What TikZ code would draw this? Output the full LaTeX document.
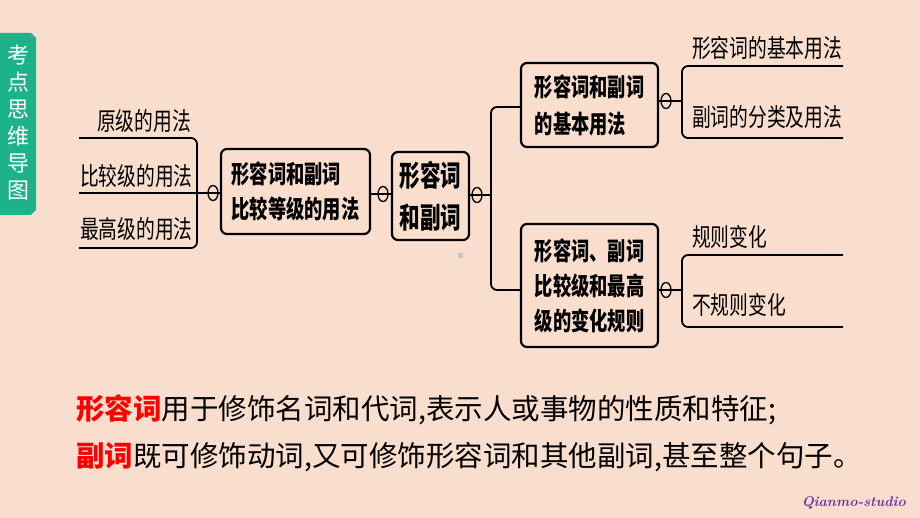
\documentclass[tikz,border=0pt]{standalone}
\usepackage{fontspec}
\usetikzlibrary{shapes.geometric}
\newfontfamily\cjk{Noto Sans CJK SC}
\newfontfamily\cjkn[FakeStretch=0.75]{Noto Sans CJK SC}
\newfontfamily\cjkb[FakeStretch=0.73]{Noto Sans CJK SC}
\newfontfamily\cjkw[FakeStretch=0.71]{Noto Sans CJK SC}
\definecolor{bg}{RGB}{249,222,205}
\definecolor{tabgreen}{RGB}{30,178,138}
\definecolor{wmcol}{RGB}{112,48,160}
\begin{document}
\begin{tikzpicture}[x=1pt,y=-1pt,
  box/.style={draw, line width=2.2pt, rounded corners=6pt, inner sep=0pt, align=left,
    font=\cjkb\bfseries\fontsize{25}{35}\selectfont},
  leaf/.style={anchor=west, inner sep=0pt, font=\cjkn\fontsize{25}{28}\selectfont},
  conn/.style={line width=1.8pt, rounded corners=6pt},
  knot/.style={draw, ellipse, line width=1.3pt, minimum width=10pt, minimum height=15pt, inner sep=0pt},
  body/.style={anchor=west, inner sep=0pt, font=\cjk\fontsize{28.5}{34}\selectfont}
  ]
\fill[bg] (0,0) rectangle (920,518);
\useasboundingbox (0,0) rectangle (920,518);

% side tab
\fill[tabgreen] (0,33) -- (31,33) -- (36,38) -- (36,210) -- (31,215) -- (0,215) -- cycle;
\node[text=white, font=\cjk\fontsize{22}{27}\selectfont, align=center, inner sep=0pt] (tab) at (18,123) {考\\点\\思\\维\\导\\图};

% boxes
\node[box, minimum width=149pt, minimum height=85pt] (b1) at (295.5,191.5) {形容词和副词\\比较等级的用法};
\node[box, font=\cjkw\bfseries\fontsize{29}{42}\selectfont, minimum width=77pt, minimum height=88pt] (b2) at (430.5,196) {形容词\\和副词};
\node[box, font=\cjkb\bfseries\fontsize{25}{37}\selectfont, minimum width=137pt, minimum height=84pt] (b3) at (589.5,105) {形容词和副词\\的基本用法};
\node[box, minimum width=137pt, minimum height=123pt] (b4) at (589.5,285.5) {形容词、副词\\比较级和最高\\级的变化规则};

% leaves
\node[leaf] (l1) at (97,121) {原级的用法};
\node[leaf] (l2) at (80,176) {比较级的用法};
\node[leaf] (l3) at (80,229) {最高级的用法};
\node[leaf] (r1) at (692,48) {形容词的基本用法};
\node[leaf] (r2) at (692,117) {副词的分类及用法};
\node[leaf] (r3) at (692,237) {规则变化};
\node[leaf] (r4) at (692,305) {不规则变化};

% left bracket
\coordinate (lb) at (197,193);
\draw[conn] (79,138) -- (197,138) -- (197,248) -- (79,248);
\draw[conn] (79,193) -- (b1.west |- lb);
\node[knot] (k1) at (213,193) {};

% b1 -> b2
\coordinate (m1) at (0,194);
\draw[conn] (b1.east |- m1) -- (b2.west |- m1);
\node[knot] (k2) at (383,194) {};

% b2 -> b3, b4
\coordinate (m2) at (491,195);
\draw[conn] (b2.east |- m2) -- (m2);
\draw[conn] (b3.west |- 0,107) -- (491,107) -- (491,290) -- (b4.west |- 0,290);
\node[knot] (k3) at (477,195) {};

% right brackets
\draw[conn] (843,66) -- (682,66) -- (682,138) -- (843,138);
\draw[conn] (b3.east |- 0,101) -- (682,101);
\node[knot] (k4) at (666,101) {};
\draw[conn] (843,255) -- (682,255) -- (682,327) -- (843,327);
\draw[conn] (b4.east |- 0,290) -- (682,290);
\node[knot] (k5) at (666,290) {};

% small artifact
\fill[gray!45] (457.5,253.5) rectangle (462.5,258.5);

% body text
\node[body] (t1) at (76,410) {\textcolor{red}{\bfseries 形容词}用于修饰名词和代词,表示人或事物的性质和特征;};
\node[body] (t2) at (76,457) {\textcolor{red}{\bfseries 副词}既可修饰动词,又可修饰形容词和其他副词,甚至整个句子。};

\node[anchor=east, inner sep=0pt, text=wmcol, font=\bfseries\itshape\fontsize{14}{16}\selectfont] (wm) at (906,503) {Qianmo-studio};
\end{tikzpicture}
\end{document}
